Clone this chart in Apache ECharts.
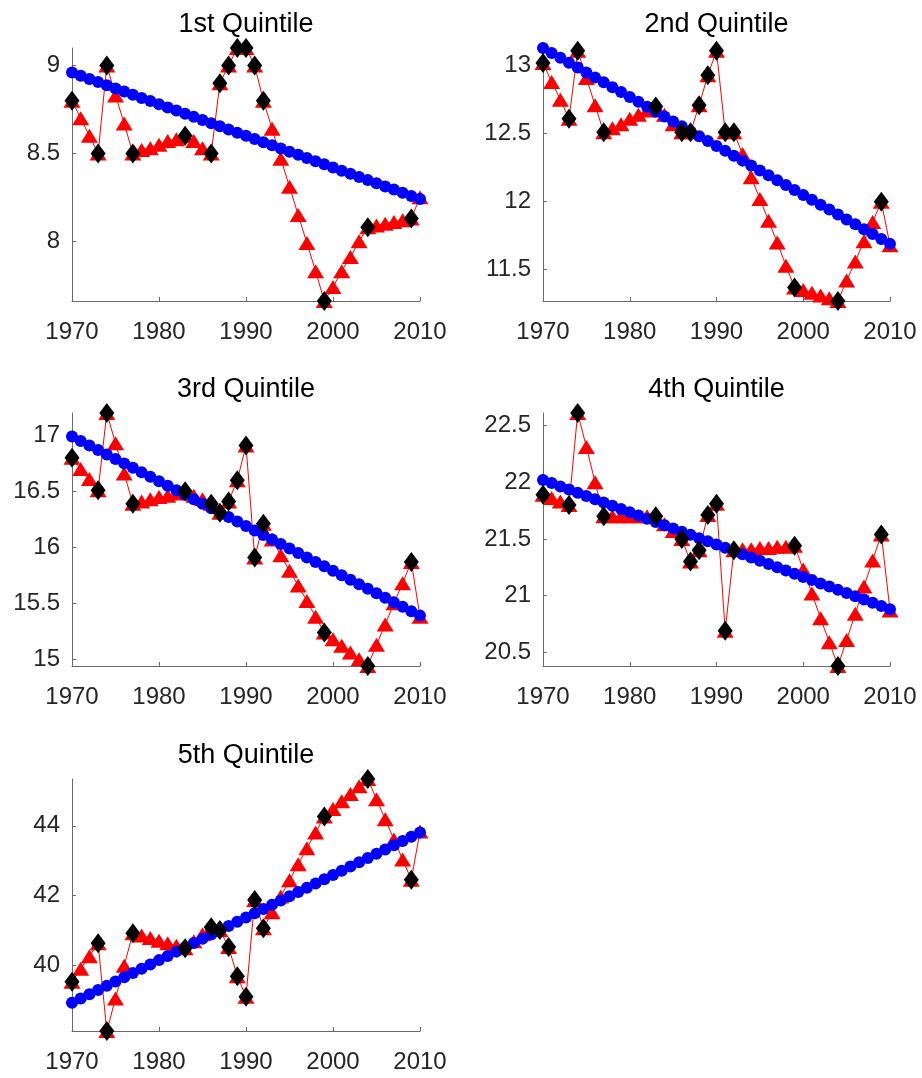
<!DOCTYPE html>
<html><head><meta charset="utf-8">
<script src="https://cdn.jsdelivr.net/npm/echarts@6/dist/echarts.min.js"></script>
<style>html,body{margin:0;padding:0;background:#fff;}#c{width:922px;height:1078px;}</style>
</head><body><div id="c"></div><script>
const years = [1970,1971,1972,1973,1974,1975,1976,1977,1978,1979,1980,1981,1982,1983,1984,1985,1986,1987,1988,1989,1990,1991,1992,1993,1994,1995,1996,1997,1998,1999,2000,2001,2002,2003,2004,2005,2006,2007,2008,2009,2010];
const obsYears = [1970,1973,1974,1977,1983,1986,1987,1988,1989,1990,1991,1992,1999,2004,2009];
const titles = ['1st Quintile','2nd Quintile','3rd Quintile','4th Quintile','5th Quintile'];
const xTicks = [1970,1980,1990,2000,2010];

const q1Ticks = [8, 8.5, 9];
const q2Ticks = [11.5, 12, 12.5, 13];
const q3Ticks = [15, 15.5, 16, 16.5, 17];
const q4Ticks = [20.5, 21, 21.5, 22, 22.5];
const q5Ticks = [40, 42, 44];

const q1Obs = [8.80,8.50,9.00,8.50,8.60,8.50,8.90,9.00,9.10,9.10,9.00,8.80,7.66,8.08,8.13];
const q2Obs = [13.02,12.61,13.11,12.51,12.70,12.51,12.51,12.71,12.93,13.11,12.51,12.51,11.37,11.27,12.00];
const q3Obs = [16.80,16.51,17.20,16.39,16.50,16.39,16.31,16.41,16.60,16.91,15.91,16.21,15.24,14.94,15.87];
const q4Obs = [21.89,21.80,22.61,21.70,21.70,21.50,21.30,21.40,21.71,21.81,20.69,21.40,21.44,20.38,21.54];
const q5Obs = [39.54,40.64,38.13,40.93,40.50,41.10,41.02,40.53,39.70,39.11,41.88,41.07,44.27,45.34,42.46];

const q1Annual = [8.80,8.70,8.60,8.50,9.00,8.83,8.67,8.50,8.52,8.53, 8.55,8.57,8.58,8.60,8.57,8.53,8.50,8.90,9.00,9.10, 9.10,9.00,8.80,8.64,8.47,8.31,8.15,7.99,7.83,7.66, 7.74,7.83,7.91,8.00,8.08,8.09,8.10,8.11,8.12,8.13, 8.25];
const q2Annual = [13.02,12.88,12.75,12.61,13.11,12.91,12.71,12.51,12.54,12.57, 12.61,12.64,12.67,12.70,12.64,12.57,12.51,12.51,12.71,12.93, 13.11,12.51,12.51,12.35,12.18,12.02,11.86,11.70,11.53,11.37, 11.35,11.33,11.31,11.29,11.27,11.42,11.56,11.71,11.85,12.00, 11.68];
const q3Annual = [16.80,16.70,16.61,16.51,17.20,16.93,16.66,16.39,16.41,16.43, 16.45,16.46,16.48,16.50,16.46,16.43,16.39,16.31,16.41,16.60, 16.91,15.91,16.21,16.07,15.93,15.79,15.66,15.52,15.38,15.24, 15.18,15.12,15.06,15.00,14.94,15.13,15.31,15.50,15.68,15.87, 15.38];
const q4Annual = [21.89,21.86,21.83,21.80,22.61,22.31,22.00,21.70,21.70,21.70, 21.70,21.70,21.70,21.70,21.63,21.57,21.50,21.30,21.40,21.71, 21.81,20.69,21.40,21.41,21.41,21.42,21.42,21.43,21.43,21.44, 21.23,21.02,20.80,20.59,20.38,20.61,20.84,21.08,21.31,21.54, 20.87];
const q5Annual = [39.54,39.91,40.27,40.64,38.13,39.06,40.00,40.93,40.86,40.79, 40.71,40.64,40.57,40.50,40.70,40.90,41.10,41.02,40.53,39.70, 39.11,41.88,41.07,41.53,41.98,42.44,42.90,43.36,43.81,44.27, 44.48,44.70,44.91,45.13,45.34,44.76,44.19,43.61,43.04,42.46, 43.84];

const q1Trend = [8.960,8.942,8.924,8.906,8.888,8.870,8.852,8.834,8.816,8.798, 8.780,8.762,8.744,8.726,8.708,8.690,8.672,8.654,8.636,8.618, 8.600,8.582,8.564,8.546,8.528,8.510,8.492,8.474,8.456,8.438, 8.420,8.402,8.384,8.366,8.348,8.330,8.312,8.294,8.276,8.258, 8.240];
const q2Trend = [13.130,13.094,13.058,13.022,12.986,12.950,12.914,12.878,12.842,12.806, 12.770,12.734,12.698,12.662,12.626,12.590,12.554,12.518,12.482,12.446, 12.410,12.374,12.338,12.302,12.266,12.230,12.194,12.158,12.122,12.086, 12.050,12.014,11.978,11.942,11.906,11.870,11.834,11.798,11.762,11.726, 11.690];
const q3Trend = [16.99,16.95,16.91,16.87,16.83,16.79,16.75,16.71,16.67,16.63, 16.59,16.55,16.51,16.47,16.43,16.39,16.35,16.31,16.27,16.23, 16.19,16.15,16.11,16.07,16.03,15.99,15.95,15.91,15.87,15.83, 15.79,15.75,15.71,15.67,15.63,15.59,15.55,15.51,15.47,15.43, 15.39];
const q4Trend = [22.020,21.992,21.963,21.935,21.906,21.878,21.849,21.821,21.792,21.764, 21.735,21.707,21.678,21.650,21.621,21.593,21.564,21.536,21.507,21.479, 21.450,21.422,21.393,21.365,21.336,21.308,21.279,21.251,21.222,21.194, 21.165,21.137,21.108,21.080,21.051,21.023,20.994,20.966,20.937,20.909, 20.880];
const q5Trend = [38.940,39.062,39.184,39.305,39.427,39.549,39.671,39.792,39.914,40.036, 40.158,40.279,40.401,40.523,40.645,40.766,40.888,41.010,41.132,41.253, 41.375,41.497,41.619,41.740,41.862,41.984,42.106,42.227,42.349,42.471, 42.593,42.714,42.836,42.958,43.080,43.201,43.323,43.445,43.567,43.688, 43.810];

const panels = [
  {title: titles[0], annual: q1Annual, trend: q1Trend, obs: q1Obs, ticks: q1Ticks},
  {title: titles[1], annual: q2Annual, trend: q2Trend, obs: q2Obs, ticks: q2Ticks},
  {title: titles[2], annual: q3Annual, trend: q3Trend, obs: q3Obs, ticks: q3Ticks},
  {title: titles[3], annual: q4Annual, trend: q4Trend, obs: q4Obs, ticks: q4Ticks},
  {title: titles[4], annual: q5Annual, trend: q5Trend, obs: q5Obs, ticks: q5Ticks}
];
const boxes = [
  {left: 72, top: 48, width: 348, height: 253},
  {left: 543, top: 48, width: 347, height: 253},
  {left: 72, top: 413, width: 348, height: 253},
  {left: 543, top: 413, width: 347, height: 253},
  {left: 72, top: 779, width: 348, height: 252}
];

const FONT = "'Liberation Sans', Arial, sans-serif";
const AXC = '#6a6a6a';
const option = {animation: false, backgroundColor: '#fff', title: [], grid: [], xAxis: [], yAxis: [], series: []};
panels.forEach((p, i) => {
  const b = boxes[i];
  option.title.push({text: p.title, left: b.left + b.width / 2, top: b.top - 37, textAlign: 'center', padding: 0,
    textStyle: {fontFamily: FONT, fontSize: 27, fontWeight: 'normal', color: '#000'}});
  option.grid.push({left: b.left, top: b.top, width: b.width, height: b.height, containLabel: false, outerBoundsMode: 'none'});
  option.xAxis.push({type: 'value', gridIndex: i, min: xTicks[0], max: xTicks[xTicks.length - 1], interval: 10,
    axisLine: {show: true, onZero: false, lineStyle: {color: AXC, width: 1}},
    axisTick: {show: true, inside: true, length: 4, lineStyle: {color: AXC}},
    axisLabel: {margin: 19, fontFamily: FONT, fontSize: 24, color: '#262626', formatter: v => String(v)},
    splitLine: {show: false}});
  option.yAxis.push({type: 'value', gridIndex: i, min: v => v.min, max: v => v.max, scale: true,
    axisLine: {show: true, onZero: false, lineStyle: {color: AXC, width: 1}},
    axisTick: {show: true, inside: true, length: 4, lineStyle: {color: AXC}, customValues: p.ticks},
    axisLabel: {margin: 12, fontFamily: FONT, fontSize: 24, color: '#262626', customValues: p.ticks},
    splitLine: {show: false}});
  option.series.push({type: 'line', xAxisIndex: i, yAxisIndex: i, z: 2,
    data: years.map((y, k) => [y, p.annual[k]]), symbol: 'triangle', symbolSize: [17, 14], showAllSymbol: true,
    lineStyle: {color: '#ff0000', width: 1}, itemStyle: {color: '#ff0000', opacity: 1}});
  option.series.push({type: 'line', xAxisIndex: i, yAxisIndex: i, z: 3,
    data: years.map((y, k) => [y, p.trend[k]]), symbol: 'circle', symbolSize: 12, showAllSymbol: true,
    lineStyle: {color: '#0000ff', width: 2}, itemStyle: {color: '#0000ff', opacity: 1}});
  option.series.push({type: 'scatter', xAxisIndex: i, yAxisIndex: i, z: 4,
    data: obsYears.map((y, k) => [y, p.obs[k]]), symbol: 'diamond', symbolSize: [15, 20],
    itemStyle: {color: '#000000', opacity: 1, borderWidth: 0}});
});
const chart = echarts.init(document.getElementById('c'), null, {renderer: 'canvas'});
chart.setOption(option);
</script></body></html>
